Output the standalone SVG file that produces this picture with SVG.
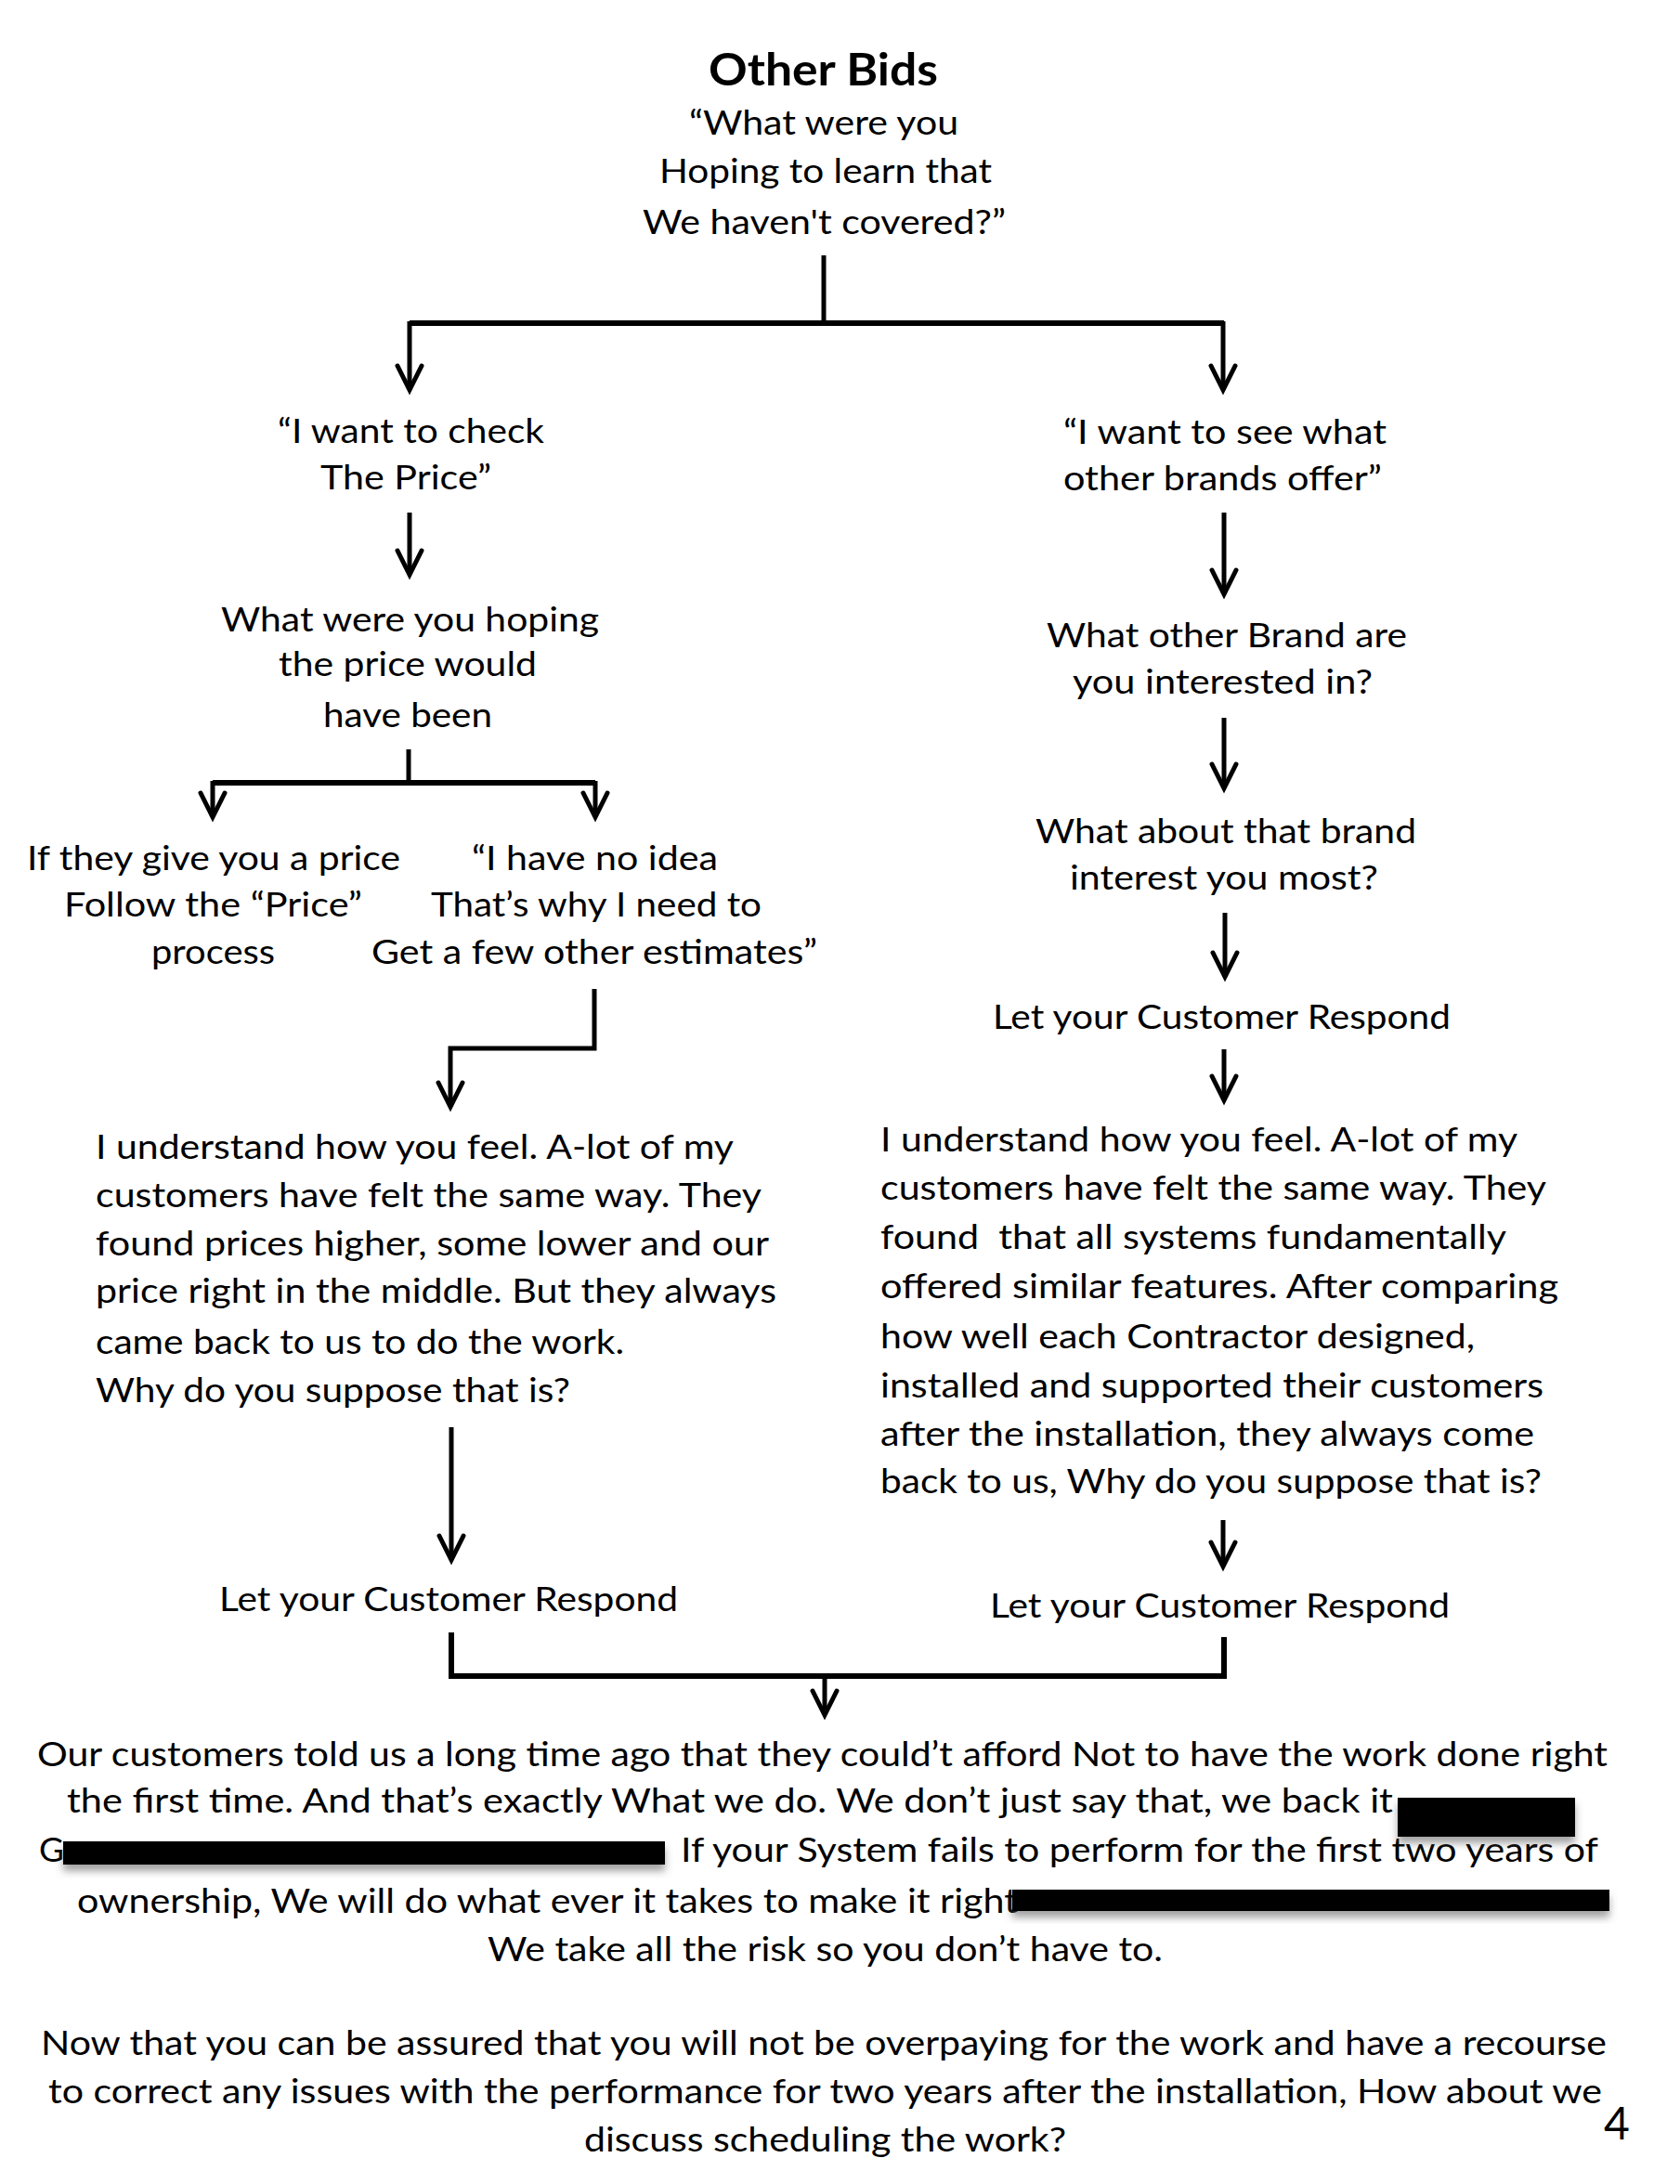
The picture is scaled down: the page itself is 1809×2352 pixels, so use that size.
<svg xmlns="http://www.w3.org/2000/svg" width="1809" height="2352" viewBox="0 0 1809 2352">
<style>
text{font-family:Lato,"Noto Sans","Liberation Sans",sans-serif;font-size:37px;fill:#000}
.title{font-weight:bold;font-size:47px}
.pg{font-size:48px}
.c{fill:none;stroke:#000;stroke-width:5;stroke-linejoin:miter}
.h{stroke-width:6}
.bar{fill:#000;filter:url(#sh)}
</style>
<defs>
<marker id="ah" markerUnits="userSpaceOnUse" markerWidth="40" markerHeight="40" refX="0" refY="0" viewBox="-30 -20 34 40" orient="auto" overflow="visible">
<path d="M-26,-13 L0,0 L-26,13" fill="none" stroke="#000" stroke-width="5" stroke-linecap="round" stroke-linejoin="miter"/>
</marker>
<filter id="sh" x="-10%" y="-30%" width="120%" height="190%">
<feDropShadow dx="0" dy="7" stdDeviation="4" flood-color="#555" flood-opacity="0.55"/>
</filter>
</defs>
<rect width="1809" height="2352" fill="#fff"/>

<g id="connectors">
<path class="c" d="M887,275 V348"/>
<path class="c h" d="M441,348 H1318"/>
<path class="c" d="M441,346 V420" marker-end="url(#ah)"/>
<path class="c" d="M1317,346 V420" marker-end="url(#ah)"/>
<path class="c" d="M441,552 V619" marker-end="url(#ah)"/>
<path class="c" d="M440,807 V843"/>
<path class="c h" d="M229,843 H641"/>
<path class="c" d="M229,841 V880" marker-end="url(#ah)"/>
<path class="c" d="M641,841 V880" marker-end="url(#ah)"/>
<path class="c" d="M640,1065 V1129 H485 V1192" marker-end="url(#ah)"/>
<path class="c" d="M486,1537 V1680" marker-end="url(#ah)"/>
<path class="c" d="M1318,552 V640" marker-end="url(#ah)"/>
<path class="c" d="M1318,773 V849" marker-end="url(#ah)"/>
<path class="c" d="M1319,983 V1052" marker-end="url(#ah)"/>
<path class="c" d="M1318,1130 V1185" marker-end="url(#ah)"/>
<path class="c" d="M1317,1637 V1687" marker-end="url(#ah)"/>
<path class="c h" d="M486,1758 V1805 H1318 V1763"/>
<path class="c" d="M888,1805 V1847" marker-end="url(#ah)"/>
</g>

<g id="n-title">
<text class="title" x="763" y="92" textLength="247" lengthAdjust="spacingAndGlyphs">Other Bids</text>
<text x="742" y="145" textLength="290" lengthAdjust="spacingAndGlyphs">“What were you</text>
<text x="710" y="197" textLength="358" lengthAdjust="spacingAndGlyphs">Hoping to learn that</text>
<text x="692" y="252" textLength="391" lengthAdjust="spacingAndGlyphs">We haven't covered?”</text>
</g>

<g id="n-check-price">
<text x="299" y="477" textLength="287" lengthAdjust="spacingAndGlyphs">“I want to check</text>
<text x="345" y="527" textLength="184" lengthAdjust="spacingAndGlyphs">The Price”</text>
</g>

<g id="n-hoping">
<text x="238" y="680" textLength="407" lengthAdjust="spacingAndGlyphs">What were you hoping</text>
<text x="300" y="728" textLength="278" lengthAdjust="spacingAndGlyphs">the price would</text>
<text x="348" y="783" textLength="182" lengthAdjust="spacingAndGlyphs">have been</text>
</g>

<g id="n-give-price">
<text x="29" y="937" textLength="402" lengthAdjust="spacingAndGlyphs">If they give you a price</text>
<text x="69" y="987" textLength="321" lengthAdjust="spacingAndGlyphs">Follow the “Price”</text>
<text x="163" y="1038" textLength="133" lengthAdjust="spacingAndGlyphs">process</text>
</g>

<g id="n-no-idea">
<text x="508" y="937" textLength="265" lengthAdjust="spacingAndGlyphs">“I have no idea</text>
<text x="464" y="987" textLength="356" lengthAdjust="spacingAndGlyphs">That’s why I need to</text>
<text x="400" y="1038" textLength="480" lengthAdjust="spacingAndGlyphs">Get a few other estimates”</text>
</g>

<g id="n-left-para">
<text x="103" y="1248" textLength="687" lengthAdjust="spacingAndGlyphs">I understand how you feel. A-lot of my</text>
<text x="103" y="1300" textLength="717" lengthAdjust="spacingAndGlyphs">customers have felt the same way. They</text>
<text x="103" y="1352" textLength="725" lengthAdjust="spacingAndGlyphs">found prices higher, some lower and our</text>
<text x="103" y="1403" textLength="733" lengthAdjust="spacingAndGlyphs">price right in the middle. But they always</text>
<text x="103" y="1458" textLength="569" lengthAdjust="spacingAndGlyphs">came back to us to do the work.</text>
<text x="103" y="1510" textLength="511" lengthAdjust="spacingAndGlyphs">Why do you suppose that is?</text>
</g>

<g id="n-left-respond">
<text x="236" y="1735" textLength="494" lengthAdjust="spacingAndGlyphs">Let your Customer Respond</text>
</g>

<g id="n-brands-offer">
<text x="1145" y="478" textLength="348" lengthAdjust="spacingAndGlyphs">“I want to see what</text>
<text x="1145" y="528" textLength="343" lengthAdjust="spacingAndGlyphs">other brands offer”</text>
</g>

<g id="n-other-brand">
<text x="1127" y="697" textLength="388" lengthAdjust="spacingAndGlyphs">What other Brand are</text>
<text x="1155" y="747" textLength="323" lengthAdjust="spacingAndGlyphs">you interested in?</text>
</g>

<g id="n-about-brand">
<text x="1115" y="908" textLength="410" lengthAdjust="spacingAndGlyphs">What about that brand</text>
<text x="1152" y="958" textLength="332" lengthAdjust="spacingAndGlyphs">interest you most?</text>
</g>

<g id="n-right-respond1">
<text x="1069" y="1108" textLength="493" lengthAdjust="spacingAndGlyphs">Let your Customer Respond</text>
</g>

<g id="n-right-para">
<text x="948" y="1240" textLength="686" lengthAdjust="spacingAndGlyphs">I understand how you feel. A-lot of my</text>
<text x="948" y="1292" textLength="717" lengthAdjust="spacingAndGlyphs">customers have felt the same way. They</text>
<text x="948" y="1345" textLength="674" lengthAdjust="spacingAndGlyphs" style="white-space:pre">found  that all systems fundamentally</text>
<text x="948" y="1398" textLength="730" lengthAdjust="spacingAndGlyphs">offered similar features. After comparing</text>
<text x="948" y="1452" textLength="640" lengthAdjust="spacingAndGlyphs">how well each Contractor designed,</text>
<text x="948" y="1505" textLength="714" lengthAdjust="spacingAndGlyphs">installed and supported their customers</text>
<text x="948" y="1557" textLength="704" lengthAdjust="spacingAndGlyphs">after the installation, they always come</text>
<text x="948" y="1608" textLength="712" lengthAdjust="spacingAndGlyphs">back to us, Why do you suppose that is?</text>
</g>

<g id="n-right-respond2">
<text x="1066" y="1742" textLength="495" lengthAdjust="spacingAndGlyphs">Let your Customer Respond</text>
</g>

<g id="n-conclusion">
<text x="40" y="1902" textLength="1691" lengthAdjust="spacingAndGlyphs">Our customers told us a long time ago that they could’t afford Not to have the work done right</text>
<text x="72" y="1952" textLength="1428" lengthAdjust="spacingAndGlyphs">the first time. And that’s exactly What we do. We don’t just say that, we back it</text>
<text x="42" y="2005" textLength="27" lengthAdjust="spacingAndGlyphs">G</text>
<text x="733" y="2005" textLength="988" lengthAdjust="spacingAndGlyphs">If your System fails to perform for the first two years of</text>
<text x="83" y="2060" textLength="1013" lengthAdjust="spacingAndGlyphs">ownership, We will do what ever it takes to make it right</text>
<text x="525" y="2112" textLength="727" lengthAdjust="spacingAndGlyphs">We take all the risk so you don’t have to.</text>
<rect class="bar" x="1505" y="1936" width="191" height="42"/>
<rect class="bar" x="68" y="1983" width="648" height="25"/>
<rect class="bar" x="1090" y="2035" width="643" height="23"/>
</g>

<g id="n-closing">
<text x="44" y="2213" textLength="1686" lengthAdjust="spacingAndGlyphs">Now that you can be assured that you will not be overpaying for the work and have a recourse</text>
<text x="52" y="2265" textLength="1673" lengthAdjust="spacingAndGlyphs">to correct any issues with the performance for two years after the installation, How about we</text>
<text x="629" y="2317" textLength="519" lengthAdjust="spacingAndGlyphs">discuss scheduling the work?</text>
</g>

<g id="n-page">
<text class="pg" x="1727" y="2304">4</text>
</g>
</svg>
